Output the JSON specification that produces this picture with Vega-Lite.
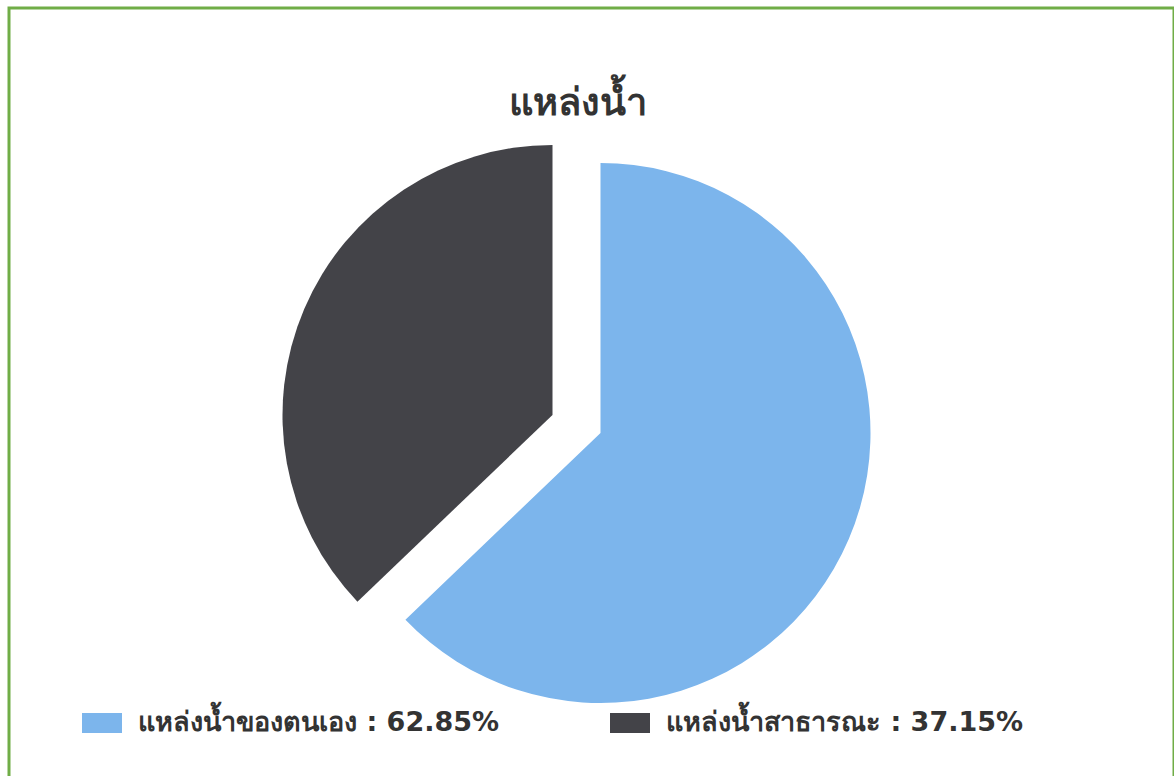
{
  "$schema": "https://vega.github.io/schema/vega-lite/v6.json",
  "autosize": {"type": "none"},
  "width": 1165,
  "height": 790,
  "padding": {"left": 9, "top": 8, "right": 0, "bottom": 0},
  "background": "white",
  "view": {"stroke": "#70ad47", "strokeWidth": 3, "fill": "white"},
  "config": {
    "font": "DejaVu Sans"
  },
  "title": {
    "text": "แหล่งน้ำ",
    "anchor": "middle",
    "frame": "group",
    "offset": -115,
    "dx": -14,
    "fontSize": 38,
    "fontWeight": "bold",
    "color": "#333333"
  },
  "data": {
    "values": [
      {"name": "แหล่งน้ำของตนเอง", "value": 62.85},
      {"name": "แหล่งน้ำสาธารณะ", "value": 37.15}
    ]
  },
  "transform": [
    {"calculate": "datum.name + ' : ' + format(datum.value, '.2f') + '%'", "as": "label"},
    {"stack": "value", "groupby": [], "sort": [{"field": "name", "order": "ascending"}], "as": ["v0", "v1"]}
  ],
  "layer": [
    {
      "transform": [{"filter": "datum.name === 'แหล่งน้ำของตนเอง'"}],
      "mark": {"type": "arc", "outerRadius": 270, "xOffset": 9, "yOffset": 30},
      "encoding": {
        "theta": {"field": "v0", "type": "quantitative", "scale": {"domain": [0, 100]}},
        "theta2": {"field": "v1"},
        "color": {"field": "label", "type": "nominal", "scale": {"range": ["#7cb5ec", "#434348"]}}
      }
    },
    {
      "transform": [{"filter": "datum.name === 'แหล่งน้ำสาธารณะ'"}],
      "mark": {"type": "arc", "outerRadius": 270, "xOffset": -39, "yOffset": 12},
      "encoding": {
        "theta": {"field": "v0", "type": "quantitative", "scale": {"domain": [0, 100]}},
        "theta2": {"field": "v1"},
        "color": {
          "field": "label",
          "type": "nominal",
          "scale": {"range": ["#7cb5ec", "#434348"]},
          "legend": {
            "orient": "none",
            "legendX": 73,
            "legendY": 695,
            "direction": "horizontal",
            "title": null,
            "symbolType": "M-1,-0.5H1V0.5H-1Z",
            "symbolSize": 1600,
            "symbolStrokeWidth": 0,
            "symbolOpacity": 1,
            "labelFontSize": 27,
            "labelFontWeight": "bold",
            "labelColor": "#333333",
            "labelOffset": 16,
            "labelLimit": 700,
            "columnPadding": 110
          }
        }
      }
    }
  ]
}
